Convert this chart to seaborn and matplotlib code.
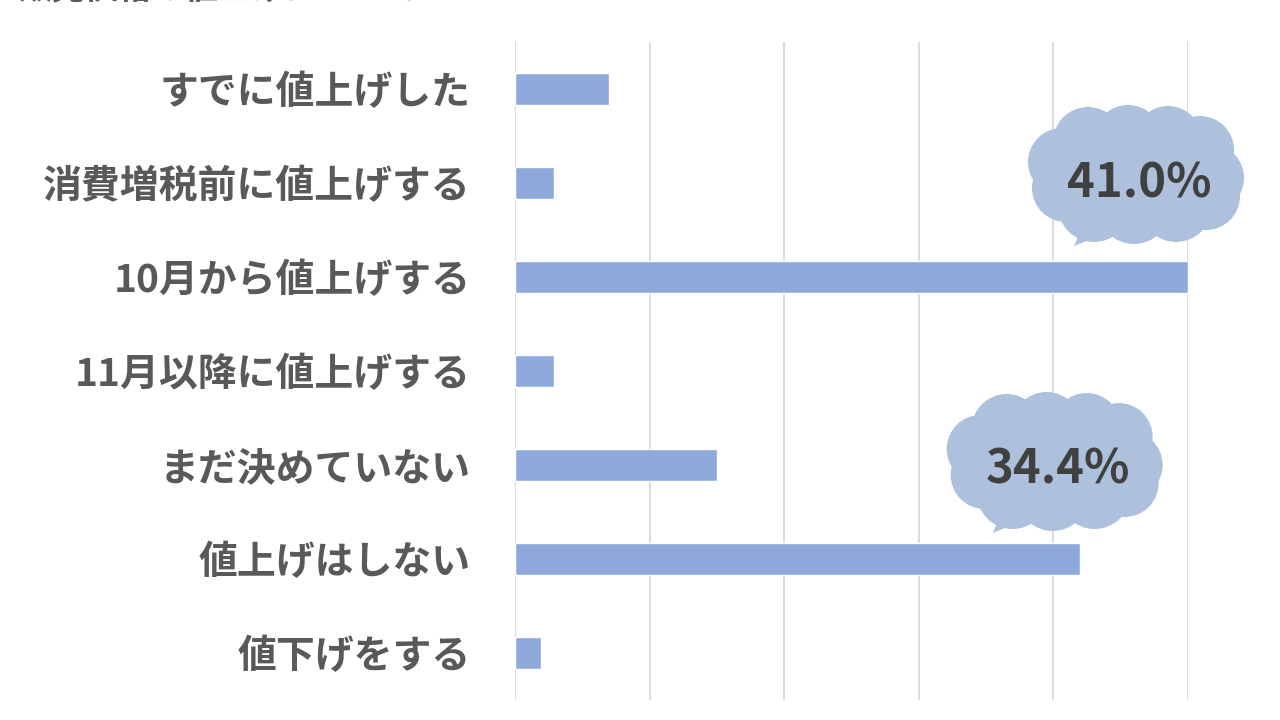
import numpy as np
import pandas as pd
import seaborn as sns
from matplotlib import pyplot as plt
from matplotlib.patches import Ellipse, Circle, Polygon

# data (percent)
answers = ["すでに値上げした", "消費増税前に値上げする", "10月から値上げする",
           "11月以降に値上げする", "まだ決めていない", "値上げはしない", "値下げをする"]
shares = [5.7, 2.4, 41.0, 2.4, 12.3, 34.4, 1.6]
callouts = ["10月から値上げする", "値上げはしない"]

df = pd.DataFrame({"answer": answers, "share": shares})

sns.set_theme(style="white")
plt.rcParams['font.family'] = ['Noto Sans CJK JP', 'DejaVu Sans']

BAR = "#8eaadb"
GRID = "#d9d9d9"
TXT = "#595959"
CLOUD = "#adc0dc"

fig = plt.figure(figsize=(12.8, 7.2), dpi=100)
ax = fig.add_axes([515 / 1280, 20 / 720, 673 / 1280, 658 / 720])

sns.barplot(data=df, y="answer", x="share", color=BAR, width=0.34,
            saturation=1, ax=ax, zorder=2)

ax.set_xlim(0, max(shares))
ax.set_ylim(len(answers) - 0.5, -0.5)
ax.set_xticks(np.linspace(0, max(shares), 6))
ax.xaxis.grid(True, color=GRID, linewidth=1.3, zorder=0)
ax.set_axisbelow(True)
ax.tick_params(axis="x", length=0, labelbottom=False)
ax.tick_params(axis="y", length=0, pad=32)
for lab in ax.get_yticklabels():
    lab.set_fontsize(28)
    lab.set_fontweight("bold")
    lab.set_color(TXT)
ax.set_xlabel("")
ax.set_ylabel("")
sns.despine(ax=ax, left=True, bottom=True)

# title line that is cut off at the top edge of the picture
fig.text(18 / 1280, 1 - 5.5 / 720, "販売価格の値上げについて", fontsize=24,
         color=TXT, fontweight="bold", va="bottom", ha="left")

# overlay in pixel coordinates for the cloud callouts
ov = fig.add_axes([0, 0, 1, 1], zorder=5)
ov.set_xlim(0, 1280)
ov.set_ylim(720, 0)
ov.axis("off")

bumps = [(-74, -12, 34), (-48, -32, 35), (-8, -34, 35), (32, -34, 34), (64, -24, 34),
         (74, 4, 34), (70, 22, 34), (40, 32, 36), (-2, 34, 36), (-42, 32, 36), (-70, 14, 34)]
offsets = {"10月から値上げする": (-52, -103), "値上げはしない": (-25, -98)}

fig.canvas.draw()
for name in callouts:
    i = answers.index(name)
    v = shares[i]
    px, py = ax.transData.transform((v, i))
    py = 720 - py
    dx, dy = offsets[name]
    cx, cy = px + dx, py + dy
    ov.add_patch(Ellipse((cx, cy), 190, 105, color=CLOUD, lw=0))
    for bx, by, r in bumps:
        ov.add_patch(Circle((cx + bx, cy + by), r, color=CLOUD, lw=0))
    ov.add_patch(Polygon([(cx - 50, cy + 45), (cx - 20, cy + 55), (cx - 62, cy + 72)],
                         closed=True, color=CLOUD, lw=0))
    ov.text(cx + 3, cy + 9, f"{v:.1f}%", fontsize=34, fontweight="bold",
            color="#404040", ha="center", va="center")

fig.savefig("out.png", dpi=100)
